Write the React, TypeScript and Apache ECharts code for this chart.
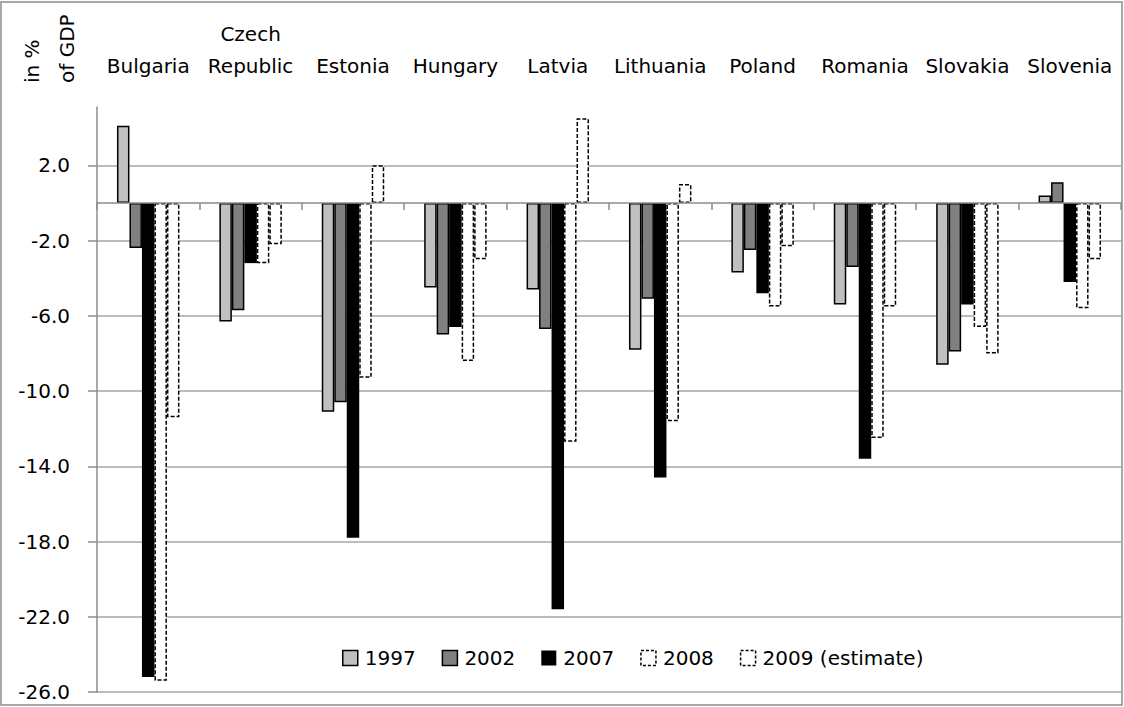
import React, { useEffect, useRef } from "react";
import * as echarts from "echarts";

const categories = ["Bulgaria", "Czech\nRepublic", "Estonia", "Hungary", "Latvia", "Lithuania", "Poland", "Romania", "Slovakia", "Slovenia"];
const seriesNames = ["1997", "2002", "2007", "2008", "2009 (estimate)"];
const v1997 = [4.1, -6.3, -11.1, -4.5, -4.6, -7.8, -3.7, -5.4, -8.6, 0.4];
const v2002 = [-2.4, -5.7, -10.6, -7.0, -6.7, -5.1, -2.5, -3.4, -7.9, 1.1];
const v2007 = [-25.2, -3.2, -17.8, -6.6, -21.6, -14.6, -4.8, -13.6, -5.4, -4.2];
const v2008 = [-25.4, -3.2, -9.3, -8.4, -12.7, -11.6, -5.5, -12.5, -6.6, -5.6];
const v2009 = [-11.4, -2.2, 2.0, -3.0, 4.5, 1.0, -2.3, -5.5, -8.0, -3.0];
const yTicks = [2, -2, -6, -10, -14, -18, -22, -26];
const yMin = -26;
const yMax = 5.1;

const FONT = "DejaVu Sans";
const FS = 20;

export default function App() {
  const ref = useRef<HTMLDivElement>(null);
  useEffect(() => {
    if (!ref.current) return;
    const chart = echarts.init(ref.current, undefined, { renderer: "svg" });
    const values = [v1997, v2002, v2007, v2008, v2009];
    const styles: any[] = [
      { color: "#c0c0c0", borderColor: "#000", borderWidth: 1.5, borderType: "solid" },
      { color: "#808080", borderColor: "#000", borderWidth: 1.5, borderType: "solid" },
      { color: "#000000", borderColor: "#000", borderWidth: 0, borderType: "solid" },
      { color: "#ffffff", borderColor: "#000", borderWidth: 1.5, borderType: [4, 2] },
      { color: "#ffffff", borderColor: "#000", borderWidth: 1.5, borderType: [4, 2] },
    ];
    chart.setOption({
      animation: false,
      backgroundColor: "#ffffff",
      textStyle: { fontFamily: FONT },
      grid: { left: 97, right: 3, top: 107, bottom: 15, containLabel: false },
      legend: {
        data: seriesNames.map((name, i) => ({
          name,
          itemStyle: {
            color: styles[i].color,
            borderColor: "#000",
            borderWidth: i === 2 ? 0 : 1.5,
            borderType: i >= 3 ? [3, 2] : "solid",
          },
        })),
        left: 337,
        top: 643,
        itemGap: 26,
        itemWidth: 15,
        itemHeight: 15,
        icon: "rect",
        textStyle: { fontFamily: FONT, fontSize: FS, color: "#000", padding: [0, 0, 0, 2] },
      },
      xAxis: [
        {
          type: "category",
          data: categories,
          position: "bottom",
          axisLine: { onZero: true, lineStyle: { color: "#8c8c8c", width: 1.5 } },
          axisTick: { show: true, length: 7, lineStyle: { color: "#8c8c8c", width: 1.5 } },
          axisLabel: { show: false },
          splitLine: { show: false },
          z: 3,
        },
        {
          type: "category",
          data: categories,
          position: "top",
          axisLine: { show: false, onZero: false },
          axisTick: { show: false },
          axisLabel: {
            show: true,
            interval: 0,
            margin: 25,
            fontFamily: FONT,
            fontSize: FS,
            lineHeight: 32,
            color: "#000",
          },
          splitLine: { show: false },
        },
      ],
      yAxis: {
        type: "value",
        min: yMin,
        max: yMax,
        axisLine: { show: true, onZero: false, lineStyle: { color: "#8c8c8c", width: 1.5 } },
        axisTick: { show: true, length: 9, customValues: yTicks, lineStyle: { color: "#8c8c8c", width: 1.5 } },
        axisLabel: {
          customValues: yTicks,
          margin: 27,
          fontFamily: FONT,
          fontSize: FS,
          color: "#000",
          formatter: (v: number) => v.toFixed(1),
        },
        splitLine: { show: true, lineStyle: { color: "#a6a6a6", width: 1.5 } },
      },
      series: seriesNames.map((name, i) => ({
        name,
        type: "bar",
        xAxisIndex: 0,
        data: values[i],
        barGap: "0%",
        barCategoryGap: "39%",
        itemStyle: styles[i],
      })),
      graphic: [
        {
          type: "rect",
          shape: { x: 1, y: 2, width: 1121, height: 703 },
          style: { fill: "none", stroke: "#8c8c8c", lineWidth: 1.5 },
          silent: true,
        },
        {
          type: "text",
          x: 14,
          y: 83,
          rotation: Math.PI / 2,
          style: {
            text: "in %\nof GDP",
            font: `${FS}px '${FONT}'`,
            fill: "#000",
            align: "left",
            verticalAlign: "top",
            lineHeight: 35,
          },
        },
      ],
    });
    return () => chart.dispose();
  }, []);
  return <div ref={ref} style={{ width: 1124, height: 707, position: "absolute", left: 0, top: 0 }} />;
}
